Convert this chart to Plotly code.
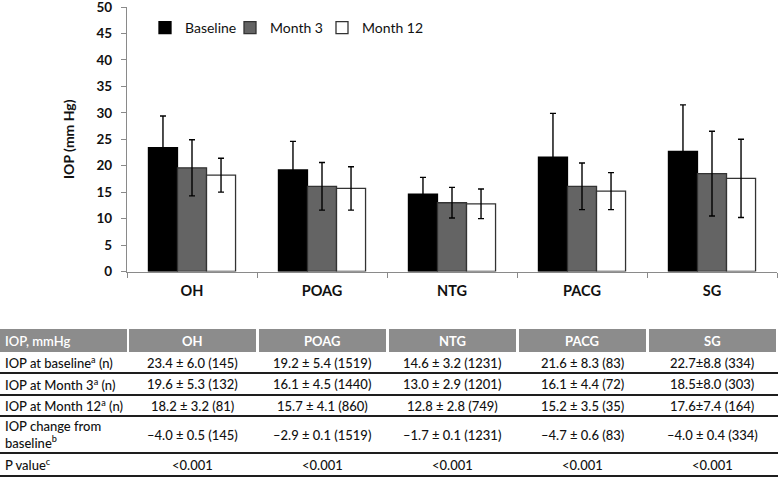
import plotly.graph_objects as go

# ---------------- data ----------------
categories = ["OH", "POAG", "NTG", "PACG", "SG"]

baseline_mean = [23.4, 19.2, 14.6, 21.6, 22.7]
baseline_sd = [6.0, 5.4, 3.2, 8.3, 8.8]
baseline_n = [145, 1519, 1231, 83, 334]

month3_mean = [19.6, 16.1, 13.0, 16.1, 18.5]
month3_sd = [5.3, 4.5, 2.9, 4.4, 8.0]
month3_n = [132, 1440, 1201, 72, 303]

month12_mean = [18.2, 15.7, 12.8, 15.2, 17.6]
month12_sd = [3.2, 4.1, 2.8, 3.5, 7.4]
month12_n = [81, 860, 749, 35, 164]

change_mean = [-4.0, -2.9, -1.7, -4.7, -4.0]
change_se = [0.5, 0.1, 0.1, 0.6, 0.4]
change_n = [145, 1519, 1231, 83, 334]

p_values = ["<0.001", "<0.001", "<0.001", "<0.001", "<0.001"]

series_names = ["Baseline", "Month 3", "Month 12"]
y_ticks = [0, 5, 10, 15, 20, 25, 30, 35, 40, 45, 50]

table_header_first = "IOP, mmHg"
row_labels = [
    "IOP at baseline<sup>a</sup> (n)",
    "IOP at Month 3<sup>a</sup> (n)",
    "IOP at Month 12<sup>a</sup> (n)",
    "IOP change from<br>baseline<sup>b</sup>",
    "P value<sup>c</sup>",
]
# separator used in the mean ± SD cells (SG column printed without spaces)
pm_sep = [" \u00b1 ", " \u00b1 ", " \u00b1 ", " \u00b1 ", "\u00b1"]

# ---------------- layout constants ----------------
W, H = 778, 477
FONT = "Lato"
TFS = 13  # table font size


def px(x):
    return x / W


def py(y):
    return 1 - y / H


def fmt(m, s, n, sep):
    ms = f"{m:.1f}".replace("-", "\u2013")
    return f"{ms}{sep}{s:.1f} ({n})"


cells = [
    [fmt(m, s, n, sp) for m, s, n, sp in zip(baseline_mean, baseline_sd, baseline_n, pm_sep)],
    [fmt(m, s, n, sp) for m, s, n, sp in zip(month3_mean, month3_sd, month3_n, pm_sep)],
    [fmt(m, s, n, sp) for m, s, n, sp in zip(month12_mean, month12_sd, month12_n, pm_sep)],
    [fmt(m, s, n, " \u00b1 ") for m, s, n in zip(change_mean, change_se, change_n)],
    p_values,
]

fig = go.Figure()

fills = ["#000000", "#646464", "#ffffff"]
lines = ["#000000", "#333333", "#333333"]
means = [baseline_mean, month3_mean, month12_mean]
sds = [baseline_sd, month3_sd, month12_sd]
legend_ids = ["legend", "legend2", "legend3"]
legend_x_px = [145, 230, 322]

for name, m, s, fc, lc, lg in zip(series_names, means, sds, fills, lines, legend_ids):
    fig.add_trace(go.Bar(
        x=categories, y=m, name=name, legend=lg,
        marker=dict(color=fc, line=dict(color=lc, width=1.3)),
        error_y=dict(type="data", array=s, color="#000000", thickness=1.4, width=3),
    ))

# table geometry (pixel rows)
row_edges = [329, 352, 373, 395, 416, 453, 476]
x_first_end = 127

shapes = []
annotations = []

# header background cells
shapes.append(dict(type="rect", xref="paper", yref="paper",
                   x0=0, x1=px(x_first_end), y0=py(row_edges[1]), y1=py(row_edges[0]),
                   fillcolor="#8c8c8c", line=dict(width=0), layer="above"))
gap = 1.0 / 130
for i, c in enumerate(categories):
    shapes.append(dict(type="rect", xref="x", yref="paper",
                       x0=i - 0.5 + 2 * gap, x1=i + 0.5 - gap,
                       y0=py(row_edges[1]), y1=py(row_edges[0]),
                       fillcolor="#8c8c8c", line=dict(width=0), layer="above"))
    annotations.append(dict(xref="x", yref="paper", x=i, y=py((row_edges[0] + row_edges[1]) / 2),
                            text=f"<b>{c}</b>", showarrow=False, xanchor="center", yanchor="middle",
                            font=dict(family=FONT, size=TFS, color="#ffffff")))
annotations.append(dict(xref="paper", yref="paper", x=px(3), y=py((row_edges[0] + row_edges[1]) / 2),
                        text=table_header_first, showarrow=False, xanchor="left", yanchor="middle",
                        font=dict(family=FONT, size=TFS, color="#ffffff", weight=600)))

# body rows
for r, (lab, vals) in enumerate(zip(row_labels, cells)):
    ymid = py((row_edges[r + 1] + row_edges[r + 2]) / 2)
    annotations.append(dict(xref="paper", yref="paper", x=px(3), y=ymid, text=lab,
                            showarrow=False, xanchor="left", yanchor="middle", align="left",
                            font=dict(family=FONT, size=TFS, color="#111111", weight=500)))
    for i, v in enumerate(vals):
        annotations.append(dict(xref="x", yref="paper", x=i, y=ymid, text=v,
                                showarrow=False, xanchor="center", yanchor="middle",
                                font=dict(family=FONT, size=TFS, color="#111111", weight=500)))
    yl = py(row_edges[r + 2])
    shapes.append(dict(type="line", xref="paper", yref="paper", x0=0, x1=1, y0=yl, y1=yl,
                       line=dict(color="#1e1e1e", width=2), layer="above"))

legend_common = dict(orientation="h", y=py(12), xanchor="left", yanchor="top",
                     font=dict(family=FONT, size=14, color="#111111"), itemwidth=30,
                     bgcolor="rgba(0,0,0,0)")

fig.update_layout(
    template="none",
    width=W, height=H,
    margin=dict(l=0, r=0, t=0, b=0, autoexpand=False),
    paper_bgcolor="#ffffff", plot_bgcolor="#ffffff",
    barmode="group", bargap=0.33, bargroupgap=0,
    font=dict(family=FONT, color="#111111"),
    showlegend=True,
    legend=dict(x=px(legend_x_px[0]), **legend_common),
    legend2=dict(x=px(legend_x_px[1]), **legend_common),
    legend3=dict(x=px(legend_x_px[2]), **legend_common),
    xaxis=dict(domain=[px(127), px(777)], showline=True, linecolor="#8a8a8a", linewidth=1.2,
               ticks="outside", tickson="boundaries", ticklen=5, tickcolor="#8a8a8a",
               ticklabelstandoff=6, automargin=False,
               tickfont=dict(family=FONT, size=14.5, color="#111111", weight="bold"),
               showgrid=False, zeroline=False, fixedrange=True),
    yaxis=dict(domain=[py(271.5), py(7)], range=[0, 50], tickvals=y_ticks,
               showline=True, linecolor="#8a8a8a", linewidth=1.2, ticks="outside",
               ticklen=5, tickcolor="#8a8a8a", showgrid=False, zeroline=False,
               ticklabeloverflow="allow", ticklabelstandoff=6, automargin="left",
               tickfont=dict(family=FONT, size=13.5, color="#111111", weight="bold"),
               title=dict(text="IOP (mm Hg)", standoff=18,
                          font=dict(family=FONT, size=14, color="#111111", weight="bold")),
               fixedrange=True),
    shapes=shapes,
    annotations=annotations,
)

fig.write_html("out.html", config={"displayModeBar": False},
               post_script="document.body.style.margin='0';")
